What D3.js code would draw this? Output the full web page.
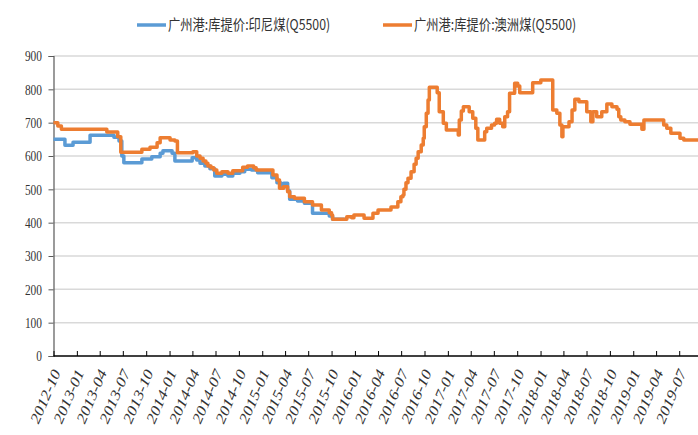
<!DOCTYPE html>
<html><head><meta charset="utf-8">
<script src="https://cdn.jsdelivr.net/npm/d3@7"></script>
<style>body{margin:0;background:#fff}</style>
</head><body>
<svg id="chart" width="698" height="435"></svg>
<script>
const seriesNames = ["广州港:库提价:印尼煤(Q5500)", "广州港:库提价:澳洲煤(Q5500)"];
const seriesColors = ["#5B9BD5", "#ED7D31"];
const yTicks = [0, 100, 200, 300, 400, 500, 600, 700, 800, 900];
const dateStart = "2012-10-01";
const dateEnd = "2019-09-13";

// 印尼煤 (step change points)
const indoDates = ["2012-10-01","2012-11-15","2012-12-17","2013-02-22","2013-05-27","2013-06-16","2013-06-27","2013-07-05",
"2013-09-14","2013-10-23","2013-11-25","2013-12-06","2014-01-11","2014-01-22","2014-03-31","2014-04-18","2014-05-01",
"2014-05-20","2014-06-09","2014-06-28","2014-07-26","2014-08-19","2014-09-07","2014-10-05","2014-10-24","2014-11-20",
"2014-12-14","2015-02-08","2015-02-28","2015-03-15","2015-03-26","2015-04-11","2015-04-19","2015-05-20","2015-06-16",
"2015-07-18","2015-09-22","2015-10-05","2015-11-22"];
const indoValues = [650,632,641,662,656,645,600,580,
591,598,608,616,608,585,595,588,578,
570,562,540,545,540,548,553,560,558,
550,535,520,505,518,495,470,465,458,
428,420,410,410];

// 澳洲煤 (step change points)
const ausDates = ["2012-10-01","2012-10-18","2012-11-01","2013-04-29","2013-06-11","2013-06-23","2013-09-14","2013-10-16",
"2013-11-13","2013-11-25","2014-01-03","2014-01-22","2014-02-01","2014-04-03","2014-04-18","2014-05-01","2014-05-13",
"2014-05-24","2014-06-01","2014-06-13","2014-06-24","2014-07-06","2014-07-26","2014-08-19","2014-09-07","2014-10-16",
"2014-11-04","2014-11-28","2014-12-08","2015-02-12","2015-02-28","2015-03-10","2015-03-26","2015-04-11","2015-04-19",
"2015-05-08","2015-06-16","2015-07-18","2015-08-22","2015-09-22","2015-10-01","2015-10-05","2015-11-30","2015-12-19",
"2015-12-28","2016-02-06","2016-03-12","2016-04-01","2016-05-22","2016-06-18","2016-06-30","2016-07-08","2016-07-12",
"2016-07-20","2016-07-28","2016-08-09","2016-08-21","2016-08-29","2016-09-06","2016-09-18","2016-09-26","2016-09-30",
"2016-10-08","2016-10-15","2016-10-20","2016-11-20","2016-11-28","2016-12-14","2016-12-26","2017-02-11","2017-02-15",
"2017-02-23","2017-03-03","2017-03-26","2017-04-09","2017-04-21","2017-04-29","2017-05-26","2017-06-03","2017-06-22",
"2017-07-04","2017-07-12","2017-07-24","2017-08-05","2017-08-13","2017-08-24","2017-09-01","2017-09-21","2017-10-03",
"2017-10-11","2017-12-01","2018-01-02","2018-02-18","2018-03-06","2018-03-18","2018-03-26","2018-03-30","2018-04-23",
"2018-05-05","2018-05-16","2018-06-01","2018-07-02","2018-07-18","2018-07-26","2018-08-10","2018-08-30","2018-09-19",
"2018-10-09","2018-10-29","2018-11-05","2018-11-13","2018-11-29","2018-12-19","2019-02-04","2019-02-12","2019-05-01",
"2019-05-13","2019-05-29","2019-07-04","2019-07-19","2019-09-13"];
const ausValues = [700,690,680,672,658,611,620,626,
640,655,648,645,610,613,600,593,585,
578,570,565,558,548,553,548,556,566,
570,565,558,543,528,503,508,493,478,
473,463,453,438,430,423,410,418,415,
423,413,428,438,447,463,478,483,500,
520,533,553,575,593,613,633,653,688,
728,768,806,790,733,698,678,663,708,
735,748,733,713,683,648,673,683,693,
698,710,698,688,718,733,788,818,810,
790,820,828,738,728,693,658,688,703,
738,770,763,733,703,733,718,733,756,
748,740,718,708,703,695,680,708,693,
683,668,653,648,648];

const parse = d3.timeParse("%Y-%m-%d");
const svg = d3.select("#chart");
const x0 = 53.5, x1 = 698, yTop = 56, yBot = 356;
const serif = "'Liberation Serif', 'DejaVu Serif', serif";
const squeeze = 0.76;

const x = d3.scaleTime().domain([parse(dateStart), parse(dateEnd)]).range([x0, x1]);
const y = d3.scaleLinear().domain([0, 900]).range([yBot, yTop]);

// gridlines
svg.append("g").selectAll("line").data(yTicks.filter(d => d > 0)).join("line")
  .attr("x1", x0).attr("x2", x1)
  .attr("y1", d => y(d)).attr("y2", d => y(d))
  .attr("stroke", "#D9D9D9").attr("stroke-width", 1.5);

// y axis
const yAxis = svg.append("g").attr("transform", `translate(${x0},0)`)
  .call(d3.axisLeft(y).tickValues(yTicks).tickSize(5).tickFormat(""));
yAxis.select(".domain").attr("stroke", "#595959").attr("stroke-width", 1.2);
yAxis.selectAll(".tick line").attr("stroke", "#595959");
svg.append("g").selectAll("text").data(yTicks).join("text")
  .attr("transform", d => `translate(42,${y(d)}) scale(${squeeze},1)`)
  .attr("text-anchor", "end").attr("dy", "0.35em")
  .attr("font-family", serif).attr("font-size", 15).attr("fill", "#333")
  .text(d => d);

// x axis
const xTickVals = d3.timeMonth.every(3).range(parse(dateStart), d3.timeDay.offset(parse(dateEnd), 1));
const fmt = d3.timeFormat("%Y-%m");
const xAxis = svg.append("g").attr("transform", `translate(0,${yBot})`)
  .call(d3.axisTop(x).tickValues(xTickVals).tickSize(5).tickFormat(""));
xAxis.select(".domain").attr("stroke", "#000").attr("stroke-width", 1.5).attr("d", `M${x0},0H${x1}`);
xAxis.selectAll(".tick line").attr("stroke", "#000");

svg.append("g").selectAll("text").data(xTickVals).join("text")
  .attr("transform", d => `translate(${x(d) + 3},${yBot + 14}) scale(${squeeze},1) rotate(-60.5)`)
  .attr("text-anchor", "end").attr("dy", "0.35em")
  .attr("font-family", serif).attr("font-size", 18).attr("fill", "#333")
  .text(d => fmt(d));

// series lines
const line = d3.line().x(d => x(d[0])).y(d => y(d[1])).curve(d3.curveStepAfter);
const indo = indoDates.map((d, i) => [parse(d), indoValues[i]]);
const aus = ausDates.map((d, i) => [parse(d), ausValues[i]]);
[indo, aus].forEach((data, i) => {
  svg.append("path").datum(data).attr("d", line)
    .attr("fill", "none").attr("stroke", seriesColors[i])
    .attr("stroke-width", 3.5).attr("stroke-linejoin", "round");
});

// legend
const legendX = [137, 383];
const lg = svg.append("g");
seriesNames.forEach((name, i) => {
  lg.append("line").attr("x1", legendX[i]).attr("x2", legendX[i] + 29)
    .attr("y1", 25).attr("y2", 25).attr("stroke", seriesColors[i]).attr("stroke-width", 3.5);
  lg.append("text").attr("transform", `translate(${legendX[i] + 31},25) scale(0.82,1)`)
    .attr("dy", "0.35em")
    .attr("font-family", "'Noto Sans CJK SC', sans-serif").attr("font-size", 15)
    .attr("fill", "#333").text(name);
});
</script>
</body></html>
